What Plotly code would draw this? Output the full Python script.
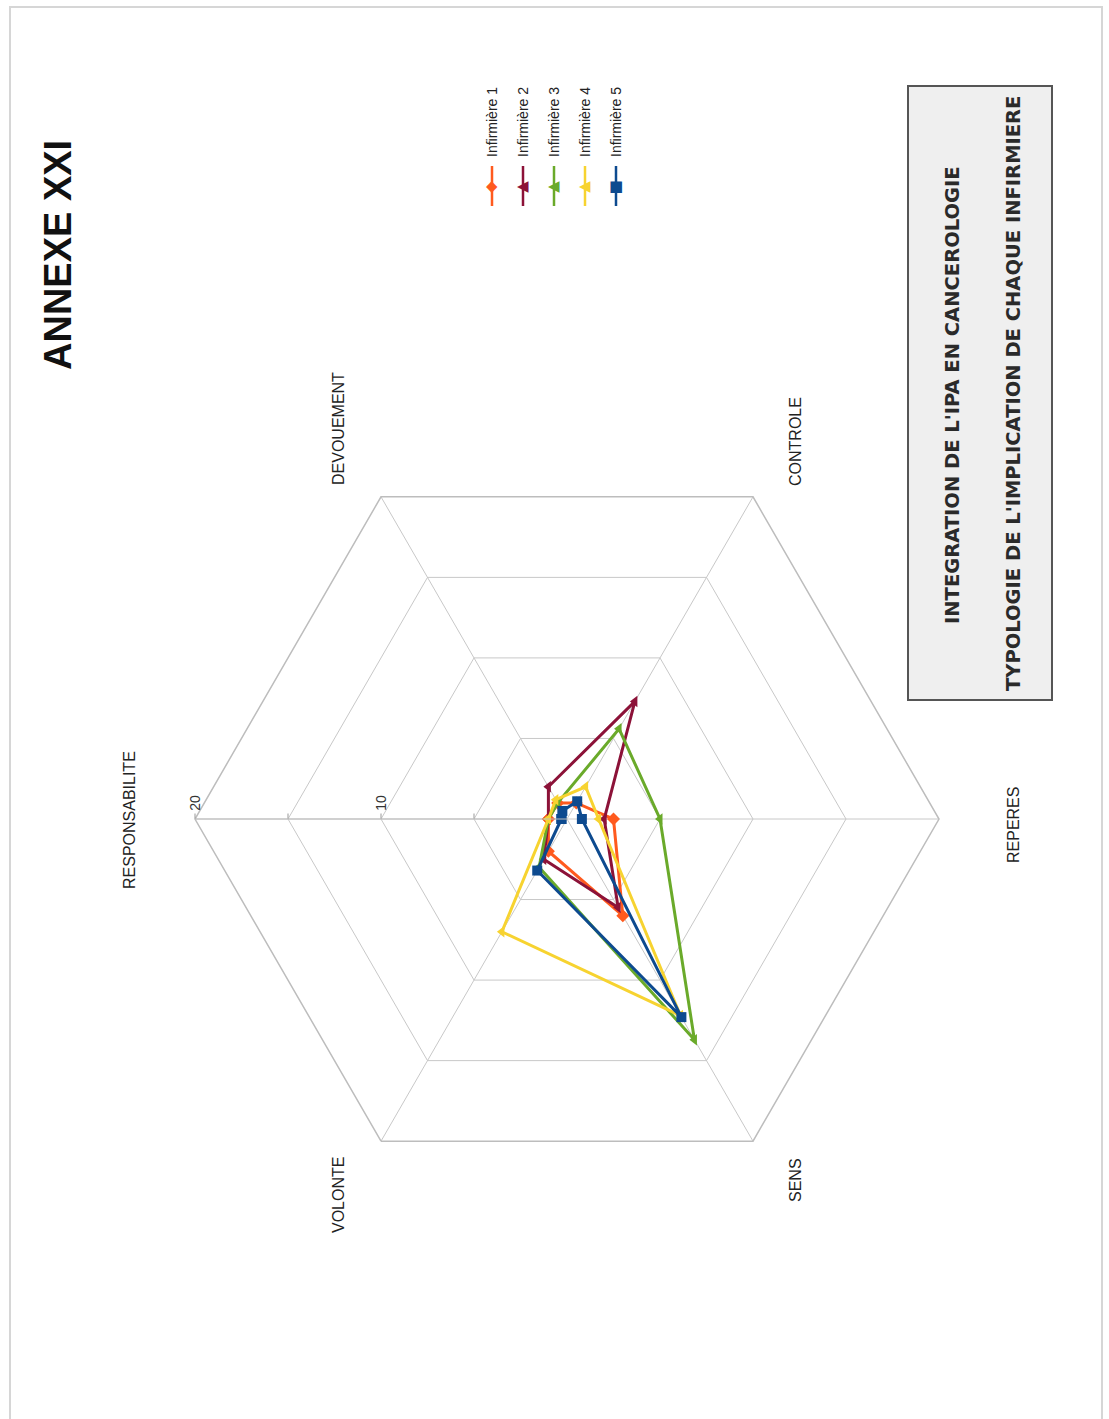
import plotly.graph_objects as go

W, H = 1109, 1419

# Axes of the radar chart (clockwise, starting on the left)
categories = ["RESPONSABILITE", "DEVOUEMENT", "CONTROLE", "REPERES", "SENS", "VOLONTE"]

# Scores per nurse, in the same order as the categories
inf1 = [1.0, 1.0, 1.0, 2.5, 6.0, 2.0]
inf2 = [1.0, 2.0, 7.3, 2.0, 5.5, 2.5]
inf3 = [1.0, 1.0, 5.6, 5.0, 13.7, 3.0]
inf4 = [1.0, 1.2, 2.0, 1.7, 12.2, 7.0]
inf5 = [0.3, 0.5, 1.1, 0.8, 12.3, 3.2]

series_names = ["Infirmière 1", "Infirmière 2", "Infirmière 3", "Infirmière 4", "Infirmière 5"]
series_values = [inf1, inf2, inf3, inf4, inf5]
colors = ["#FF5A1E", "#8C1238", "#6AAA2A", "#F7D330", "#0D4A8F"]
symbols = ["diamond", "triangle-left", "triangle-left", "triangle-left", "square"]
legend_glyphs = ["◆", "◀", "◀", "◀", "■"]

radial_ticks = [5, 10, 15, 20]
radial_ticktext = ["", "10", "", "20"]

NARROW = "Liberation Sans Narrow, Arial Narrow, Liberation Sans, Arial"
PLAIN = "Liberation Sans, Arial"
WIDE = "DejaVu Sans, Verdana, Arial"


def px(x):
    return x / W


def py(y):
    return 1 - y / H


fig = go.Figure()

for name, vals, col, sym in zip(series_names, series_values, colors, symbols):
    fig.add_trace(go.Scatterpolar(
        r=vals + vals[:1],
        theta=categories + categories[:1],
        mode="lines+markers",
        name=name,
        line=dict(color=col, width=3),
        marker=dict(color=col, size=10, symbol=sym),
        showlegend=False,
    ))

# polar area: hexagon centred on (567, 819) px
cx, cy, R = 567, 819, 372
fig.update_layout(
    width=W, height=H,
    margin=dict(l=0, r=0, t=0, b=0),
    paper_bgcolor="white",
    plot_bgcolor="white",
    polar=dict(
        domain=dict(x=[px(cx - R), px(cx + R)], y=[py(cy + R), py(cy - R)]),
        bgcolor="white",
        gridshape="linear",
        angularaxis=dict(
            rotation=180,
            direction="clockwise",
            showticklabels=False,
            ticks="",
            showline=True,
            linecolor="#bdbdbd",
            linewidth=1.5,
            gridcolor="#c8c8c8",
            gridwidth=1.2,
        ),
        radialaxis=dict(
            range=[0, 20],
            angle=180,
            tickvals=radial_ticks,
            ticktext=radial_ticktext,
            tickangle=90,
            ticks="outside",
            ticklen=5,
            tickcolor="#999999",
            showline=True,
            linecolor="#bdbdbd",
            gridcolor="#c8c8c8",
            gridwidth=1.2,
            tickfont=dict(family=PLAIN, size=14, color="#333333"),
        ),
    ),
)

annotations = []

# category labels, written vertically
label_pos = {
    "RESPONSABILITE": (130, 820),
    "DEVOUEMENT": (338, 428),
    "CONTROLE": (795, 442),
    "REPERES": (1013, 825),
    "SENS": (795, 1180),
    "VOLONTE": (338, 1195),
}
for cat in categories:
    x, y = label_pos[cat]
    annotations.append(dict(
        x=px(x), y=py(y), xref="paper", yref="paper",
        text=cat, showarrow=False, textangle=-90,
        xanchor="center", yanchor="middle",
        font=dict(family=PLAIN, size=16, color="#222222"),
    ))

# page title
annotations.append(dict(
    x=px(58), y=py(255), xref="paper", yref="paper",
    text="<b>ANNEXE XXI</b>", showarrow=False, textangle=-90,
    xanchor="center", yanchor="middle",
    font=dict(family=PLAIN, size=38, color="#111111"),
))

# boxed caption
annotations.append(dict(
    x=px(953), y=py(395), xref="paper", yref="paper",
    text="<b>INTEGRATION DE L'IPA EN CANCEROLOGIE</b>", showarrow=False, textangle=-90,
    xanchor="center", yanchor="middle",
    font=dict(family=WIDE, size=19.5, color="#2a2a2a"),
))
annotations.append(dict(
    x=px(1013), y=py(394), xref="paper", yref="paper",
    text="<b>TYPOLOGIE DE L'IMPLICATION DE CHAQUE INFIRMIERE</b>", showarrow=False, textangle=-90,
    xanchor="center", yanchor="middle",
    font=dict(family=WIDE, size=19.5, color="#2a2a2a"),
))

shapes = [
    # page frame
    dict(type="rect", xref="paper", yref="paper",
         x0=px(10), x1=px(1102), y0=py(1425), y1=py(7),
         line=dict(color="#d6d6d6", width=2)),
    # caption box
    dict(type="rect", xref="paper", yref="paper",
         x0=px(908), x1=px(1052), y0=py(700), y1=py(86),
         line=dict(color="#555555", width=2), fillcolor="#efefef", layer="below"),
]

# vertical legend
legend_x = [492, 523, 554, 585, 616]
for xL, name, col, glyph in zip(legend_x, series_names, colors, legend_glyphs):
    shapes.append(dict(type="line", xref="paper", yref="paper",
                       x0=px(xL), x1=px(xL), y0=py(166), y1=py(206),
                       line=dict(color=col, width=2.5)))
    annotations.append(dict(
        x=px(xL), y=py(186), xref="paper", yref="paper",
        text=glyph, showarrow=False,
        xanchor="center", yanchor="middle",
        font=dict(family="DejaVu Sans", size=15, color=col),
    ))
    annotations.append(dict(
        x=px(xL), y=py(122), xref="paper", yref="paper",
        text=name, showarrow=False, textangle=-90,
        xanchor="center", yanchor="middle",
        font=dict(family=NARROW, size=14, color="#222222"),
    ))

fig.update_layout(annotations=annotations, shapes=shapes)

fig.write_html("out.html")
